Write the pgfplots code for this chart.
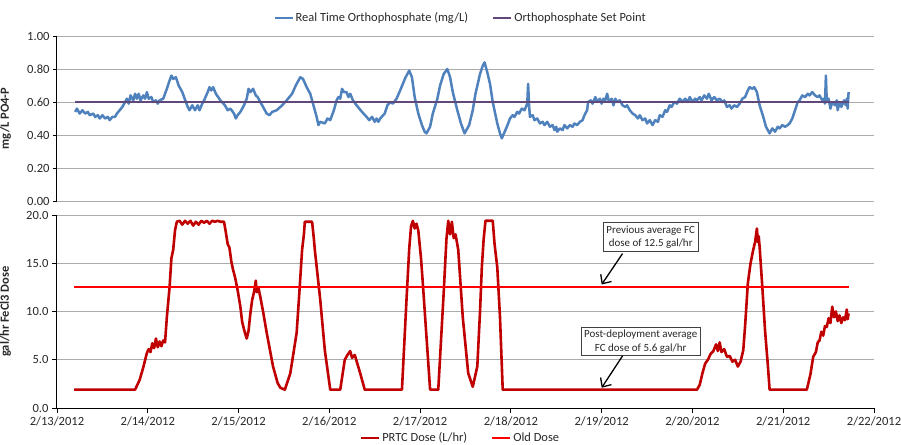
\documentclass[border=0pt]{standalone}
\usepackage{pgfplots}
\pgfplotsset{compat=1.18}
\usepackage{fontspec}
\setmainfont{Carlito}
\usetikzlibrary{arrows.meta}
\definecolor{oblue}{RGB}{79,129,189}
\definecolor{opurple}{RGB}{96,73,122}
\definecolor{dred}{RGB}{192,0,0}
\definecolor{tickgray}{RGB}{40,40,40}
\pgfplotsset{
  common/.style={
    scale only axis, width=817bp, xmin=0, xmax=9,
    axis x line=bottom, axis y line=left,
    axis line style={-, black, line width=1bp},
    ymajorgrids, major grid style={gray!65, line width=0.8bp},
    tick align=outside, major tick length=4bp,
    tick style={black, line width=0.8bp},
    /pgf/number format/assume math mode=true,
    ticklabel style={font=\fontsize{12.6}{15}\selectfont, text=tickgray},
    ylabel style={font=\bfseries\fontsize{12.5}{14}\selectfont, text=tickgray},
    legend cell align=left,
    legend image code/.code={\draw[#1, line width=2.2bp] (0,0) -- (18bp,0);},
    legend style={draw=none, fill=none, font=\fontsize{12.5}{14}\selectfont, text=tickgray,
      /tikz/every even column/.append style={column sep=22bp}, inner sep=1bp},
  }
}
\begin{document}
\begin{tikzpicture}
\begin{axis}[common,
  at={(57bp,-36bp)}, anchor=north west, height=165bp,
  ymin=0, ymax=1, ytick={0,0.2,0.4,0.6,0.8,1},
  yticklabel style={/pgf/number format/.cd, fixed, fixed zerofill, precision=2},
  xtick=\empty, x axis line style={draw=gray!65, line width=0.8bp},
  ylabel={mg/L PO4-P}, ylabel style={at={(axis description cs:-0.052,0.5)}},
  legend columns=2,
  legend style={at={(0.494,1.109)}, anchor=center},
]
\addplot[oblue, line width=2.5bp, line join=round] table {
x y
0.20 0.54
0.22 0.56
0.25 0.53
0.28 0.55
0.31 0.53
0.34 0.54
0.36 0.52
0.40 0.53
0.42 0.51
0.45 0.52
0.47 0.50
0.50 0.52
0.53 0.50
0.56 0.51
0.58 0.49
0.61 0.51
0.64 0.51
0.66 0.53
0.69 0.55
0.72 0.57
0.74 0.59
0.77 0.62
0.79 0.59
0.81 0.64
0.84 0.61
0.86 0.65
0.88 0.62
0.90 0.65
0.92 0.61
0.95 0.64
0.97 0.62
0.99 0.66
1.01 0.62
1.04 0.63
1.06 0.60
1.09 0.61
1.11 0.59
1.13 0.61
1.17 0.62
1.21 0.68
1.24 0.73
1.26 0.76
1.28 0.74
1.31 0.75
1.34 0.70
1.38 0.66
1.42 0.60
1.44 0.57
1.46 0.55
1.49 0.58
1.52 0.55
1.55 0.58
1.57 0.55
1.60 0.59
1.62 0.61
1.66 0.66
1.68 0.69
1.70 0.67
1.72 0.69
1.75 0.65
1.80 0.61
1.85 0.58
1.88 0.55
1.91 0.56
1.95 0.53
1.97 0.50
1.99 0.52
2.02 0.54
2.06 0.58
2.09 0.62
2.11 0.68
2.13 0.66
2.16 0.68
2.19 0.64
2.21 0.63
2.26 0.58
2.31 0.53
2.34 0.52
2.37 0.54
2.42 0.55
2.48 0.58
2.53 0.61
2.59 0.65
2.63 0.70
2.68 0.75
2.71 0.74
2.75 0.69
2.79 0.65
2.83 0.57
2.86 0.51
2.88 0.46
2.90 0.48
2.95 0.47
2.98 0.50
3.01 0.49
3.05 0.55
3.08 0.61
3.10 0.63
3.12 0.62
3.14 0.68
3.16 0.66
3.19 0.66
3.21 0.63
3.23 0.65
3.26 0.61
3.30 0.58
3.36 0.54
3.41 0.51
3.44 0.49
3.47 0.51
3.50 0.48
3.52 0.50
3.54 0.48
3.56 0.50
3.61 0.53
3.64 0.58
3.67 0.60
3.70 0.59
3.74 0.62
3.78 0.67
3.81 0.71
3.84 0.75
3.88 0.79
3.91 0.75
3.94 0.63
3.98 0.53
4.02 0.46
4.05 0.42
4.07 0.41
4.11 0.45
4.14 0.53
4.19 0.62
4.22 0.70
4.26 0.77
4.30 0.80
4.33 0.75
4.36 0.66
4.41 0.55
4.45 0.47
4.49 0.41
4.54 0.46
4.58 0.55
4.61 0.65
4.66 0.77
4.69 0.82
4.71 0.84
4.74 0.78
4.77 0.71
4.80 0.60
4.85 0.47
4.88 0.41
4.90 0.38
4.94 0.43
4.97 0.47
4.99 0.50
5.02 0.52
5.04 0.51
5.07 0.54
5.09 0.53
5.12 0.56
5.15 0.55
5.18 0.59
5.19 0.71
5.20 0.58
5.21 0.51
5.24 0.52
5.26 0.49
5.29 0.50
5.32 0.47
5.35 0.48
5.37 0.46
5.40 0.48
5.43 0.45
5.46 0.46
5.48 0.43
5.50 0.45
5.51 0.42
5.54 0.44
5.57 0.43
5.59 0.46
5.62 0.44
5.65 0.46
5.68 0.45
5.70 0.47
5.73 0.46
5.76 0.48
5.79 0.49
5.81 0.52
5.84 0.55
5.85 0.60
5.88 0.61
5.90 0.59
5.93 0.63
5.95 0.60
5.98 0.62
6.00 0.59
6.02 0.62
6.04 0.61
6.06 0.65
6.08 0.60
6.11 0.62
6.13 0.58
6.15 0.62
6.17 0.60
6.20 0.61
6.23 0.58
6.26 0.57
6.28 0.58
6.31 0.55
6.34 0.53
6.37 0.52
6.40 0.50
6.42 0.52
6.45 0.49
6.48 0.50
6.50 0.47
6.53 0.49
6.56 0.46
6.59 0.49
6.62 0.48
6.64 0.52
6.67 0.51
6.70 0.55
6.72 0.54
6.75 0.58
6.77 0.57
6.80 0.60
6.83 0.59
6.86 0.62
6.89 0.60
6.92 0.62
6.95 0.60
6.97 0.63
7.00 0.60
7.03 0.62
7.05 0.61
7.08 0.63
7.10 0.61
7.13 0.64
7.16 0.62
7.18 0.65
7.21 0.61
7.24 0.63
7.27 0.61
7.30 0.62
7.33 0.60
7.35 0.61
7.38 0.57
7.41 0.58
7.43 0.56
7.46 0.58
7.49 0.57
7.52 0.59
7.55 0.62
7.58 0.63
7.61 0.67
7.63 0.69
7.66 0.68
7.68 0.69
7.71 0.66
7.74 0.58
7.78 0.51
7.81 0.45
7.83 0.43
7.85 0.41
7.88 0.44
7.91 0.42
7.94 0.45
7.96 0.44
7.99 0.46
8.02 0.45
8.05 0.46
8.07 0.47
8.10 0.50
8.13 0.55
8.16 0.60
8.18 0.61
8.21 0.64
8.24 0.63
8.27 0.65
8.29 0.64
8.32 0.66
8.35 0.64
8.38 0.63
8.40 0.64
8.43 0.61
8.45 0.62
8.46 0.59
8.47 0.76
8.48 0.60
8.50 0.62
8.52 0.56
8.54 0.60
8.57 0.58
8.59 0.61
8.60 0.55
8.62 0.60
8.64 0.57
8.67 0.61
8.69 0.58
8.70 0.62
8.71 0.56
8.72 0.66
};
\addlegendentry{Real Time Orthophosphate (mg/L)}
\addplot[opurple, line width=2.2bp] coordinates {(0.20,0.60) (8.73,0.60)};
\addlegendentry{Orthophosphate Set Point}
\end{axis}

\begin{axis}[common,
  at={(57bp,-215bp)}, anchor=north west, height=193bp,
  ymin=0, ymax=20, ytick={0,5,10,15,20},
  yticklabel style={/pgf/number format/.cd, fixed, fixed zerofill, precision=1},
  xtick={0,1,2,3,4,5,6,7,8,9},
  xticklabels={2/13/2012,2/14/2012,2/15/2012,2/16/2012,2/17/2012,2/18/2012,2/19/2012,2/20/2012,2/21/2012,2/22/2012},
  major tick length=5bp,
  ylabel={gal/hr FeCl3 Dose}, ylabel style={at={(axis description cs:-0.052,0.5)}},
  legend columns=2,
  legend style={at={(0.494,-0.155)}, anchor=center},
]
\addplot[dred, line width=2.6bp, line join=round] table {
x y
0.19 1.9
0.86 1.9
0.91 2.9
0.95 4.2
0.99 5.7
1.01 6.1
1.03 5.8
1.05 6.7
1.07 6.2
1.09 7.2
1.11 6.3
1.13 6.9
1.15 6.4
1.17 7.0
1.19 6.8
1.21 9.4
1.24 12.5
1.26 15.5
1.28 16.4
1.30 18.4
1.32 19.3
1.35 19.4
1.38 19.0
1.41 19.4
1.44 19.1
1.47 19.4
1.50 18.9
1.53 19.3
1.56 19.0
1.59 19.4
1.62 19.2
1.65 19.4
1.68 19.1
1.71 19.4
1.74 19.3
1.77 19.4
1.80 19.3
1.84 19.3
1.86 18.2
1.88 17.0
1.90 16.6
1.92 15.2
1.94 14.3
1.96 13.6
1.99 12.2
2.02 10.5
2.04 8.9
2.07 7.8
2.09 7.2
2.11 8.0
2.13 9.8
2.15 11.2
2.17 12.0
2.19 13.2
2.20 12.0
2.22 12.4
2.24 11.5
2.27 10.0
2.31 7.8
2.38 4.3
2.43 2.6
2.46 2.1
2.51 1.9
2.57 3.6
2.64 7.8
2.67 12.0
2.70 16.4
2.72 18.0
2.73 19.3
2.81 19.3
2.83 17.5
2.84 16.4
2.90 11.2
2.95 6.0
3.01 1.9
3.12 1.9
3.17 5.0
3.20 5.5
3.23 5.9
3.25 5.2
3.28 5.5
3.34 3.6
3.39 1.9
3.80 1.9
3.85 11.2
3.88 16.5
3.90 18.8
3.92 19.4
3.94 18.6
3.96 19.1
3.98 18.4
4.01 15.5
4.03 12.9
4.11 1.9
4.20 1.9
4.26 12.0
4.29 17.5
4.31 19.4
4.33 18.0
4.35 19.3
4.37 17.6
4.39 18.0
4.42 16.4
4.47 9.4
4.53 3.6
4.58 2.2
4.63 4.3
4.66 10.0
4.68 14.6
4.70 17.5
4.72 19.4
4.80 19.4
4.82 17.0
4.85 14.6
4.88 9.4
4.91 1.9
7.05 1.9
7.08 2.4
7.11 3.6
7.14 4.6
7.17 5.0
7.20 5.6
7.23 5.9
7.26 6.6
7.28 5.9
7.30 6.8
7.32 5.8
7.35 6.1
7.38 5.3
7.41 5.4
7.44 4.8
7.47 5.0
7.50 4.3
7.53 4.8
7.56 6.0
7.58 8.5
7.61 12.9
7.64 15.0
7.67 16.4
7.69 17.2
7.71 18.6
7.72 17.2
7.73 17.8
7.74 16.7
7.77 12.5
7.80 8.0
7.83 4.5
7.85 1.9
8.26 1.9
8.30 3.5
8.33 5.3
8.36 5.8
8.38 6.8
8.40 7.0
8.42 7.9
8.44 7.5
8.46 8.5
8.48 8.4
8.50 9.3
8.52 8.8
8.54 10.5
8.56 9.4
8.58 10.0
8.60 9.0
8.62 9.6
8.64 8.8
8.66 9.4
8.68 9.1
8.70 10.2
8.71 9.2
8.72 9.8
};
\addlegendentry{PRTC Dose (L/hr)}
\addplot[red, line width=2.2bp] coordinates {(0.19,12.5) (8.72,12.5)};
\addlegendentry{Old Dose}
\node[draw=black!75, line width=0.8bp, fill=white, align=center, inner sep=3bp,
  font=\fontsize{11}{13.5}\selectfont, text=tickgray] at (axis cs:6.54,17.7)
  {Previous average FC\\dose of 12.5 gal/hr};
\node[draw=black!75, line width=0.8bp, fill=white, align=center, inner sep=3bp,
  font=\fontsize{11}{13.5}\selectfont, text=tickgray] at (axis cs:6.43,6.9)
  {Post-deployment average\\FC dose of 5.6 gal/hr};
\draw[black, line width=1.3bp, -{Straight Barb[length=7bp,width=13bp]}]
  (axis cs:6.23,16.0) -- (axis cs:6.00,12.8);
\draw[black, line width=1.3bp, -{Straight Barb[length=7bp,width=13bp]}]
  (axis cs:6.23,5.4) -- (axis cs:6.00,2.1);
\end{axis}
\pgfresetboundingbox
\useasboundingbox (0,0) rectangle (901bp,-445bp);
\end{tikzpicture}
\end{document}
